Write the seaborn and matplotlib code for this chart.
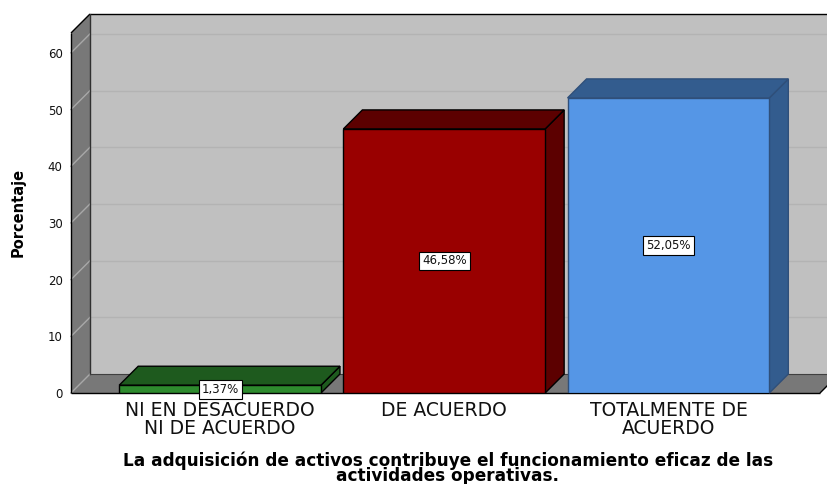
import matplotlib
matplotlib.use("Agg")
import matplotlib.pyplot as plt
import seaborn as sns
import numpy as np
from matplotlib.patches import Polygon

plt.rcParams['font.family'] = ['DejaVu Sans']

# ---- data ----
categories = ["NI EN DESACUERDO\nNI DE ACUERDO", "DE ACUERDO", "TOTALMENTE DE\nACUERDO"]
values = [1.37, 46.58, 52.05]
value_labels = ["1,37%", "46,58%", "52,05%"]
yticks = [0, 10, 20, 30, 40, 50, 60]
ylabel = "Porcentaje"
title = "La adquisición de activos contribuye el funcionamiento eficaz de las\nactividades operativas."

front_colors = ["#2E8B2E", "#990000", "#5596E6"]
dark_colors = ["#1E5A1E", "#5C0000", "#335C8E"]
edge_colors = ["#000000", "#000000", "#2F4F7A"]

W, H = 827, 484
fig = plt.figure(figsize=(W / 100, H / 100), dpi=100)
ax = fig.add_axes([71 / W, (H - 393) / H, (820 - 71) / W, (393 - 33) / H])

sns.barplot(x=categories, y=values, hue=categories, palette=front_colors,
            width=0.9, saturation=1, legend=False, ax=ax)

xlim = (-0.665, 2.676)
ylim = (0, 63.5)
ax.set_xlim(*xlim)
ax.set_ylim(*ylim)
for s in ax.spines.values():
    s.set_visible(False)
ax.set_facecolor("none")

# depth offset (pixels) converted to data units
off_px = 19
p0 = ax.transData.transform((0, 0))
d = ax.transData.inverted().transform(p0 + np.array([off_px, off_px]))
dx, dy = d[0], d[1]

x0, x1 = xlim
ytop = ylim[1]
wall_gray = "#C0C0C0"
side_gray = "#787878"

# back wall
ax.add_patch(Polygon([(x0 + dx, dy), (x1 + dx + 0.2, dy), (x1 + dx + 0.2, ytop + dy), (x0 + dx, ytop + dy)],
                     closed=True, fc=wall_gray, ec="none", zorder=0.5, clip_on=False))
# left wall
ax.add_patch(Polygon([(x0, 0), (x0, ytop), (x0 + dx, ytop + dy), (x0 + dx, dy)],
                     closed=True, fc=side_gray, ec="none", zorder=0.6, clip_on=False))
# floor
ax.add_patch(Polygon([(x0, 0), (x1, 0), (x1 + dx, dy), (x0 + dx, dy)],
                     closed=True, fc=side_gray, ec="none", zorder=0.6, clip_on=False))

# gridlines
for t in yticks[1:]:
    ax.plot([x0 + dx, x1 + dx + 0.2], [t + dy, t + dy], color="#B3B3B3", lw=1.0, zorder=0.55, clip_on=False)
    ax.plot([x0, x0 + dx], [t, t + dy], color="#A8A8A8", lw=1.0, zorder=0.65, clip_on=False)
ax.plot([x0, x0 + dx], [0, dy], color="#A8A8A8", lw=1.0, zorder=0.65, clip_on=False)

# outlines
lk = dict(color="black", lw=1.0, zorder=0.7, clip_on=False, solid_capstyle="butt")
ax.plot([x0, x0], [0, ytop], **lk)
ax.plot([x0, x0 + dx], [ytop, ytop + dy], **lk)
ax.plot([x0 + dx, x1 + dx + 0.2], [ytop + dy, ytop + dy], **lk)
ax.plot([x0 + dx, x0 + dx], [dy, ytop + dy], color="#303030", lw=1.0, zorder=0.7, clip_on=False)
ax.plot([x0 + dx, x1 + dx + 0.2], [dy, dy], color="#404040", lw=0.8, zorder=0.7, clip_on=False)
ax.plot([x0, x1], [0, 0], **lk)
ax.plot([x1, x1 + dx], [0, dy], **lk)

# 3D bars
bar_patches = sorted([p for c in ax.containers for p in c], key=lambda p: p.get_x())
for i, p in enumerate(bar_patches):
    bx0 = p.get_x()
    bx1 = bx0 + p.get_width()
    h = p.get_height()
    p.set_facecolor(front_colors[i])
    p.set_edgecolor(edge_colors[i])
    p.set_linewidth(1.0)
    p.set_zorder(3)
    top = Polygon([(bx0, h), (bx1, h), (bx1 + dx, h + dy), (bx0 + dx, h + dy)], closed=True,
                  fc=dark_colors[i], ec=edge_colors[i], lw=1.0, zorder=2.5, clip_on=False)
    side = Polygon([(bx1, 0), (bx1, h), (bx1 + dx, h + dy), (bx1 + dx, dy)], closed=True,
                   fc=dark_colors[i], ec=edge_colors[i], lw=1.0, zorder=2.5, clip_on=False)
    ax.add_patch(side)
    ax.add_patch(top)
    ax.text(bx0 + p.get_width() / 2, h / 2, value_labels[i], ha="center", va="center",
            fontsize=8.5, zorder=5, color="#111111",
            bbox=dict(boxstyle="square,pad=0.25", fc="white", ec="black", lw=0.8))

ax.set_yticks(yticks)
ax.set_yticklabels([str(t) for t in yticks])
ax.tick_params(axis="y", length=0, pad=6, labelsize=8.5, labelcolor="#111111")
ax.tick_params(axis="x", length=0, pad=6, labelsize=13.5, labelcolor="#111111")
for lab in ax.get_xticklabels():
    lab.set_linespacing(0.92)
ax.set_xlabel("")
ax.set_ylabel("")

fig.text(18 / W, 1 - 212 / H, ylabel, rotation=90, ha="center", va="center",
         fontsize=10.5, fontweight="bold")
fig.text(448 / W, 1 - 451 / H, title, ha="center", va="top", fontsize=12.2, fontweight="bold",
         linespacing=0.85)

fig.savefig("out.png", dpi=100)
